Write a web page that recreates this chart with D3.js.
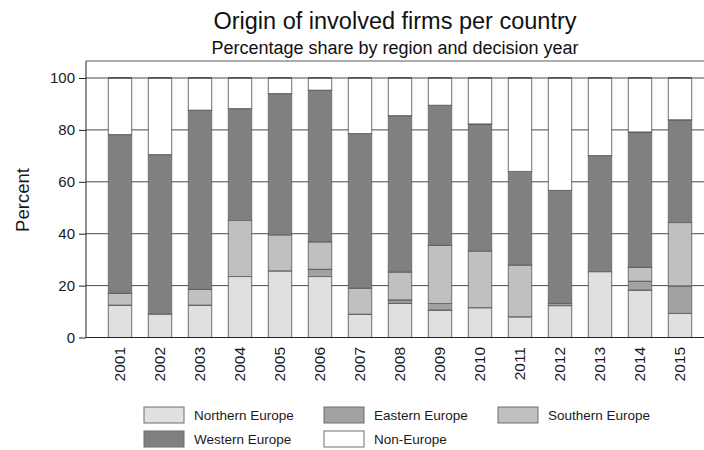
<!DOCTYPE html>
<html>
<head>
<meta charset="utf-8">
<script src="https://cdn.jsdelivr.net/npm/d3@7"></script>
<style>
body{margin:0;background:#fff;}
svg{font-family:"Liberation Sans",Arial,sans-serif;display:block;}
</style>
</head>
<body>
<svg id="chart" width="704" height="450"></svg>
<script>
// data (percent shares, stacked bottom to top)
let years=["2001","2002","2003","2004","2005","2006","2007","2008","2009","2010","2011","2012","2013","2014","2015"];
let regions=["Northern Europe","Eastern Europe","Southern Europe","Western Europe","Non-Europe"];
let northern=[12.5,9.1,12.5,23.5,25.7,23.5,9.0,13.2,10.6,11.5,8.0,12.3,25.4,18.3,9.3];
let eastern =[0,0,0,0,0,2.8,0,1.3,2.5,0,0,0.9,0,3.4,10.6];
let southern=[4.6,0,6.1,21.6,13.9,10.6,10.1,10.8,22.5,21.9,20.0,0,0,5.4,24.4];
let western =[61.1,61.4,69.0,43.1,54.4,58.4,59.5,60.2,53.9,48.9,36.0,43.5,44.7,52.1,39.6];
let nonEurope=[21.8,29.5,12.4,11.8,6.0,4.7,21.4,14.5,10.5,17.7,36.0,43.3,29.9,20.8,16.1];
let yTicks=[0,20,40,60,80,100];

let fills=["#e0e0e0","#a2a2a2","#c0c0c0","#808080","#ffffff"];

let series=[northern,eastern,southern,western,nonEurope];
let table=years.map((yr,i)=>{
  let row={year:yr};
  regions.forEach((r,k)=>{row[r]=series[k][i];});
  return row;
});
let stacked=d3.stack().keys(regions)(table);

let svg=d3.select("#chart");
svg.append("rect").attr("width",704).attr("height",450).attr("fill","#fff");

let padL=86, padT=61, padB=337.5, padR=704;

let x=d3.scaleBand().domain(years).range([100,700]).paddingInner(0.415).paddingOuter(0.2075);
let y=d3.scaleLinear().domain([0,100]).range([padB,78]);

// gridlines
svg.append("g").selectAll("line").data(yTicks.filter(t=>t>0)).enter().append("line")
  .attr("x1",padL).attr("x2",padR)
  .attr("y1",d=>y(d)).attr("y2",d=>y(d))
  .attr("stroke","#4a4a4a").attr("stroke-width",1);

// plot frame (top)
svg.append("line").attr("x1",padL).attr("x2",padR).attr("y1",padT).attr("y2",padT)
  .attr("stroke","#5a5a5a");

// bars
let layers=svg.append("g").selectAll("g").data(stacked).enter().append("g")
  .attr("fill",(d,i)=>fills[i]);
layers.selectAll("rect").data(d=>d.filter(s=>s[1]-s[0]>0)).enter().append("rect")
  .attr("x",d=>x(d.data.year))
  .attr("width",x.bandwidth())
  .attr("y",d=>y(d[1]))
  .attr("height",d=>y(d[0])-y(d[1]))
  .attr("stroke","#6e6e6e").attr("stroke-width",1);
layers.selectAll("line").data(d=>d.filter(s=>s[1]-s[0]>0)).enter().append("line")
  .attr("x1",d=>x(d.data.year)).attr("x2",d=>x(d.data.year)+x.bandwidth())
  .attr("y1",d=>y(d[1])).attr("y2",d=>y(d[1]))
  .attr("stroke","#1e1e1e").attr("stroke-width",1);

// axes
let yAxis=d3.axisLeft(y).tickValues(yTicks).tickSize(7).tickPadding(4);
let gy=svg.append("g").attr("transform","translate("+padL+",0)").call(yAxis);
gy.select(".domain").remove();
gy.selectAll("line").attr("stroke","#222");
gy.selectAll("text").style("font-size","15px").attr("fill","#1a1a1a");
svg.append("line").attr("x1",padL).attr("x2",padL).attr("y1",padT).attr("y2",padB)
  .attr("stroke","#222");

let xAxis=d3.axisBottom(x).tickSize(0);
let gx=svg.append("g").attr("transform","translate(0,"+padB+")").call(xAxis);
gx.select(".domain").remove();
gx.selectAll("text")
  .attr("transform","rotate(-90)")
  .attr("x",-9.5).attr("y",0).attr("dy","0.35em")
  .style("text-anchor","end").style("font-size","15.5px").attr("fill","#1a1a1a");
svg.append("line").attr("x1",padL).attr("x2",padR).attr("y1",padB).attr("y2",padB)
  .attr("stroke","#222");

// axis title
svg.append("text").attr("transform","translate(29,200) rotate(-90)")
  .attr("text-anchor","middle").style("font-size","18.5px").attr("fill","#1a1a1a").text("Percent");

// titles
svg.append("text").attr("x",395).attr("y",29).attr("text-anchor","middle")
  .style("font-size","23.5px").attr("fill","#111").text("Origin of involved firms per country");
svg.append("text").attr("x",395).attr("y",54).attr("text-anchor","middle")
  .style("font-size","18px").attr("fill","#111").text("Percentage share by region and decision year");

// legend
let colX=[144,324,498], rowY=[407,431];
let leg=svg.append("g").selectAll("g").data(regions).enter().append("g")
  .attr("transform",(d,i)=>"translate("+colX[i%3]+","+rowY[Math.floor(i/3)]+")");
leg.append("rect").attr("width",40).attr("height",16)
  .attr("fill",(d,i)=>fills[i]).attr("stroke","#6e6e6e");
leg.append("text").attr("x",50).attr("y",8).attr("dy","0.35em")
  .style("font-size","13.5px").attr("fill","#1a1a1a").text(d=>d);
</script>
</body>
</html>
